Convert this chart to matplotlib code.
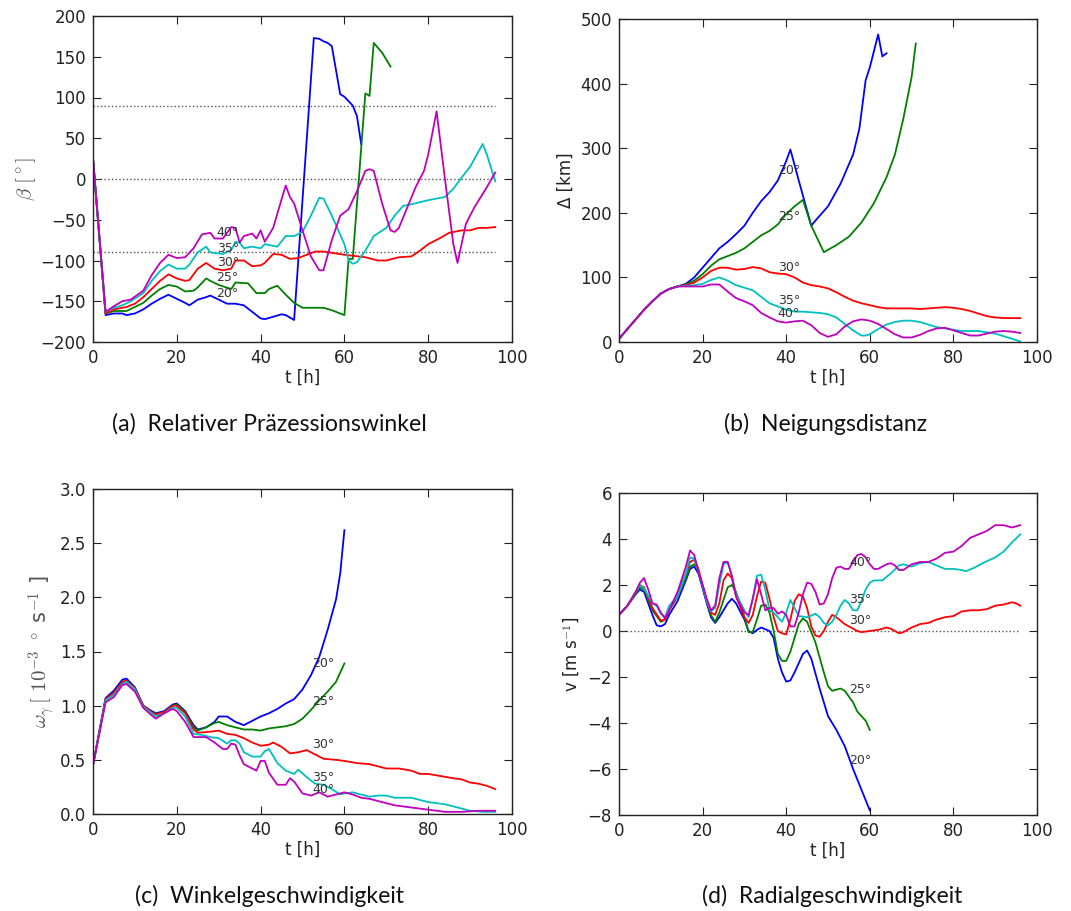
import numpy as np
import matplotlib
matplotlib.use("Agg")
import matplotlib.pyplot as plt

plt.rcParams['mathtext.fontset'] = 'cm'
plt.rcParams['font.family'] = ['DejaVu Sans']

# ---------------- Panel (a): beta ----------------
a20_t = [0, 3, 5, 7, 8, 10, 12, 14, 16, 18, 20, 22, 23, 25, 27, 28, 30, 32, 34, 36, 38, 40, 41, 43, 45, 46, 48,
         52.7, 54, 55, 56, 57, 59, 60, 62, 63, 64]
a20_v = [25, -167, -165, -165, -167, -165, -160, -153, -147, -142, -147, -152, -155, -148, -145, -143, -148, -153, -153, -155, -163, -171, -172, -169, -166, -167, -173,
         173, 172, 169, 167, 163, 104, 101, 90, 77, 43]
a25_t = [0, 3, 5, 8, 10, 12, 14, 16, 18, 20, 22, 24, 25, 27, 28, 30, 33, 34, 37, 39, 41, 42, 44, 46, 48, 50, 53, 55, 57, 60,
         61, 62, 65, 66, 67, 69, 71]
a25_v = [25, -165, -162, -162, -157, -152, -143, -135, -130, -132, -138, -137, -133, -122, -125, -130, -135, -127, -128, -140, -140, -135, -131, -142, -152, -158, -158, -158, -161, -167,
         -98, -98, 105, 102, 167, 155, 138]
a30_t = [0, 3, 5, 8, 10, 12, 14, 16, 18, 20, 22, 23, 25, 27, 29, 31, 33, 34, 36, 38, 40, 41, 43, 45, 47, 49, 51, 53, 55,
         60, 65, 68, 70, 73, 76, 78, 80, 83, 85, 88, 90, 92, 94, 96]
a30_v = [25, -165, -160, -157, -153, -145, -135, -125, -117, -122, -125, -124, -110, -103, -110, -112, -110, -100, -100, -107, -106, -103, -92, -93, -98, -97, -93, -89, -89,
         -93, -96, -100, -100, -96, -95, -88, -80, -72, -66, -63, -63, -60, -60, -59]
a35_t = [0, 3, 5, 7, 9, 12, 14, 16, 18, 20, 22, 23, 25, 27, 28, 31, 33, 34, 35, 36, 38, 40, 41, 44, 46, 48, 50, 52, 54, 55,
         57, 60, 61, 62, 63, 65, 67, 70, 72, 74, 76, 80, 82, 84, 86, 88, 90, 93, 94, 96]
a35_v = [25, -163, -158, -155, -150, -140, -125, -113, -105, -110, -110, -105, -90, -83, -90, -92, -87, -77, -78, -85, -83, -85, -80, -83, -70, -70, -65, -45, -23, -24,
         -45, -80, -100, -104, -102, -88, -70, -60, -45, -33, -31, -26, -24, -22, -12, 2, 15, 43, 30, -3]
a40_t = [0, 3, 5, 7, 9, 12, 14, 16, 18, 20, 22, 24, 26, 28, 29, 31, 33, 34, 35, 36, 38, 39, 40, 41, 43, 45, 46, 47, 48, 50,
         52, 54, 55, 57, 59, 61, 63, 65, 66, 67, 69, 71, 72, 73, 75, 77, 79, 80, 82, 84, 86, 87, 89, 91, 94, 96]
a40_v = [25, -163, -156, -150, -148, -137, -118, -103, -93, -97, -96, -85, -68, -66, -73, -73, -59, -60, -78, -70, -67, -73, -63, -77, -60, -25, -8, -22, -30, -63,
         -95, -112, -112, -75, -45, -37, -15, 10, 12, 10, -30, -63, -65, -60, -35, -10, 10, 30, 83, 0, -80, -103, -55, -35, -10, 8]

# ---------------- Panel (b): Delta ----------------
b20_t = [0, 2, 4, 6, 8, 10, 12, 14, 16, 18, 20, 22, 24, 26, 28, 30, 32, 34, 36, 38, 40, 41, 43, 46, 47, 50, 53, 56, 57.5, 59, 60, 62, 63, 64]
b20_v = [5, 20, 35, 50, 63, 75, 82, 86, 90, 100, 115, 130, 145, 155, 167, 180, 200, 218, 232, 250, 280, 298, 250, 180, 188, 210, 245, 290, 330, 405, 425, 476, 442, 447]
b25_t = [0, 2, 4, 6, 8, 10, 12, 14, 16, 18, 20, 22, 24, 26, 28, 30, 32, 34, 36, 38, 40, 42, 44, 46, 49, 52, 55, 58, 61, 64, 66, 68, 70, 71]
b25_v = [5, 20, 35, 50, 63, 75, 82, 86, 89, 95, 105, 118, 128, 133, 138, 145, 155, 165, 172, 182, 198, 210, 220, 180, 139, 150, 163, 185, 215, 255, 290, 345, 410, 462]
b30_t = [0, 2, 4, 6, 8, 10, 12, 14, 16, 18, 20, 22, 24, 26, 28, 30, 32, 34, 36, 38, 40, 42, 44, 46, 48, 50, 52, 54, 56, 58, 60, 62, 64, 66,
         70, 72, 74, 76, 78, 80, 82, 84, 86, 88, 90, 92, 96]
b30_v = [5, 20, 35, 50, 63, 75, 82, 86, 88, 92, 100, 110, 115, 115, 112, 113, 116, 114, 108, 106, 105, 100, 92, 88, 86, 83, 77, 70, 64, 60, 57, 54, 52, 52,
         52, 51, 52, 53, 54, 53, 51, 48, 44, 40, 38, 37, 37]
b35_t = [0, 2, 4, 6, 8, 10, 12, 14, 16, 18, 20, 22, 24, 26, 28, 30, 32, 34, 36, 38, 40, 42, 44, 46, 48, 50, 52, 54, 56, 58, 59, 60, 62, 64, 66,
         68, 70, 72, 74, 76, 78, 80, 82, 84, 86, 88, 90, 92, 94, 96]
b35_v = [5, 20, 35, 50, 63, 75, 82, 86, 87, 88, 90, 96, 100, 95, 88, 84, 80, 70, 60, 55, 50, 47, 47, 46, 45, 43, 38, 28, 18, 10, 10, 12, 20, 27, 31,
         33, 33, 31, 27, 23, 21, 19, 17, 17, 17, 15, 13, 9, 5, 1]
b40_t = [0, 2, 4, 6, 8, 10, 12, 14, 16, 18, 20, 22, 24, 26, 28, 30, 32, 34, 36, 38, 40, 42, 44, 46, 48, 50, 52, 54, 56, 58, 60, 62, 64, 66,
         68, 70, 72, 74, 76, 78, 80, 82, 84, 86, 88, 90, 92, 94, 96]
b40_v = [5, 20, 35, 50, 63, 75, 82, 86, 86, 86, 86, 89, 89, 78, 68, 63, 57, 45, 38, 32, 30, 32, 33, 26, 14, 8, 12, 24, 32, 35, 33, 28, 20, 12,
         7, 7, 11, 17, 21, 22, 18, 14, 10, 10, 13, 16, 17, 16, 14]

# ---------------- Panel (c): omega ----------------
c20_t = [0, 3, 5, 7, 8, 10, 12, 14, 15, 17, 19, 20, 22, 24, 25, 27, 29, 30, 32, 34, 36, 38, 40, 42, 44, 46, 48, 50, 52, 54, 56, 58, 59, 60]
c20_v = [0.45, 1.07, 1.14, 1.24, 1.25, 1.17, 1.0, 0.95, 0.93, 0.95, 1.01, 1.02, 0.95, 0.82, 0.78, 0.8, 0.85, 0.9, 0.9, 0.85, 0.82, 0.86, 0.9, 0.93, 0.97, 1.02, 1.06, 1.15, 1.28, 1.45, 1.7, 1.98, 2.22, 2.62]
c25_t = [0, 3, 5, 7, 8, 10, 12, 14, 15, 17, 19, 20, 22, 24, 25, 27, 29, 30, 32, 34, 36, 38, 40, 42, 44, 46, 48, 50, 52, 54, 56, 58, 60]
c25_v = [0.45, 1.06, 1.12, 1.22, 1.23, 1.16, 1.0, 0.94, 0.92, 0.94, 1.0, 1.01, 0.94, 0.8, 0.77, 0.8, 0.84, 0.85, 0.82, 0.8, 0.78, 0.78, 0.77, 0.79, 0.8, 0.81, 0.83, 0.88, 0.96, 1.05, 1.13, 1.22, 1.39]
c30_t = [0, 3, 5, 7, 8, 10, 12, 14, 15, 17, 19, 20, 22, 24, 25, 28, 30, 32, 34, 36, 38, 40, 42, 43, 45, 47, 49, 51, 53, 55, 58, 60, 63, 66,
         70, 73, 76, 78, 80, 83, 86, 88, 90, 92, 94, 96]
c30_v = [0.45, 1.06, 1.12, 1.22, 1.23, 1.16, 1.0, 0.94, 0.92, 0.94, 1.0, 1.0, 0.93, 0.78, 0.75, 0.76, 0.77, 0.74, 0.73, 0.7, 0.66, 0.63, 0.64, 0.66, 0.62, 0.56, 0.57, 0.59, 0.55, 0.51, 0.5, 0.49, 0.47, 0.46,
         0.42, 0.42, 0.4, 0.37, 0.37, 0.35, 0.33, 0.32, 0.29, 0.28, 0.26, 0.23]
c35_t = [0, 3, 5, 7, 8, 10, 12, 14, 15, 17, 19, 20, 22, 24, 26, 28, 30, 32, 33, 34, 35, 36, 38, 40, 41, 42, 44, 46, 48, 49, 51, 53, 55, 57,
         59, 60, 62, 64, 66, 68, 70, 72, 74, 76, 78, 80, 82, 84, 86, 88, 90, 93, 96]
c35_v = [0.45, 1.05, 1.1, 1.2, 1.22, 1.15, 0.99, 0.93, 0.9, 0.93, 0.98, 0.98, 0.9, 0.74, 0.73, 0.71, 0.7, 0.65, 0.68, 0.68, 0.65, 0.57, 0.53, 0.53, 0.58, 0.6, 0.47, 0.4, 0.37, 0.41, 0.34, 0.28, 0.27, 0.23,
         0.18, 0.19, 0.2, 0.18, 0.16, 0.17, 0.17, 0.15, 0.15, 0.15, 0.13, 0.11, 0.1, 0.09, 0.07, 0.05, 0.03, 0.02, 0.02]
c40_t = [0, 3, 5, 7, 8, 10, 12, 14, 15, 17, 19, 20, 22, 24, 25, 27, 29, 31, 32, 33, 34, 35, 36, 38, 39, 40, 41, 42, 44, 46, 47, 48, 50,
         52, 54, 56, 58, 60, 62, 64, 66, 68, 70, 72, 74, 76, 78, 80, 84, 88, 92, 96]
c40_v = [0.45, 1.03, 1.08, 1.19, 1.2, 1.13, 0.98, 0.91, 0.88, 0.93, 0.97, 0.95, 0.85, 0.71, 0.71, 0.71, 0.66, 0.6, 0.6, 0.65, 0.64, 0.54, 0.46, 0.42, 0.4, 0.49, 0.49, 0.38, 0.27, 0.27, 0.33, 0.3, 0.19,
         0.17, 0.2, 0.16, 0.18, 0.2, 0.18, 0.15, 0.14, 0.12, 0.1, 0.08, 0.07, 0.06, 0.05, 0.04, 0.02, 0.02, 0.03, 0.03]

# ---------------- Panel (d): v ----------------
d20_t = [0, 2, 4, 5, 6, 8, 9, 10, 11, 12, 14, 16, 17, 18, 19, 21, 22, 23, 24, 26, 27, 28, 30, 31, 32, 33, 34, 36, 37, 38, 39, 40, 41, 42,
         44, 45, 46, 48, 50, 52, 54, 56, 58, 60]
d20_v = [0.7, 1.1, 1.6, 1.8, 1.7, 0.7, 0.25, 0.2, 0.3, 0.7, 1.3, 2.2, 2.7, 2.8, 2.5, 1.2, 0.6, 0.35, 0.6, 1.2, 1.4, 1.2, 0.5, 0.0, -0.1, 0.05, 0.15, 0.0, -0.3, -1.2, -1.8, -2.2, -2.15, -1.8,
         -1.0, -0.85, -1.2, -2.5, -3.7, -4.3, -5.0, -6.0, -6.9, -7.8]
d25_t = [0, 2, 4, 5, 6, 8, 10, 11, 12, 14, 16, 17, 18, 19, 21, 22, 23, 24, 26, 27, 28, 30, 31, 32, 33, 34, 35, 36, 37, 38, 39, 40, 41, 43,
         44, 45, 47, 49, 50, 51, 53, 54, 56, 57, 59, 60]
d25_v = [0.7, 1.1, 1.6, 1.9, 1.8, 0.9, 0.4, 0.5, 0.9, 1.5, 2.3, 2.8, 2.9, 2.6, 1.3, 0.7, 0.4, 0.8, 1.9, 2.0, 1.7, 0.6, -0.05, -0.05, 0.5, 1.1, 1.15, 0.8, 0.0, -1.0, -1.3, -1.3, -0.9, 0.3,
         0.55, 0.4, -0.5, -1.8, -2.4, -2.6, -2.5, -2.6, -3.1, -3.5, -3.9, -4.3]
d30_t = [0, 2, 4, 5, 6, 8, 10, 11, 12, 14, 16, 17, 18, 19, 21, 22, 23, 24, 25, 26, 27, 28, 30, 31, 32, 33, 34, 35, 36, 37, 38, 39, 40,
         41, 42, 43, 44, 45, 46, 47, 48, 49, 50, 51, 52, 54, 56, 57, 58, 60, 62, 64, 65, 67, 68, 70, 72, 74, 76, 78, 80, 82, 84,
         86, 88, 90, 92, 94, 95, 96]
d30_v = [0.7, 1.1, 1.7, 2.0, 1.9, 1.0, 0.45, 0.5, 0.9, 1.6, 2.5, 3.0, 3.1, 2.7, 1.3, 0.8, 0.7, 1.2, 2.2, 2.5, 2.3, 1.5, 0.6, 0.35, 0.7, 1.5, 2.15, 2.1, 1.4, 0.6, 0.0, -0.1, -0.15,
         0.5, 1.3, 1.6, 1.5, 1.0, 0.2, -0.2, -0.25, 0.0, 0.4, 0.7, 0.6, 0.3, 0.1, 0.0, -0.05, 0.0, 0.05, 0.15, 0.1, -0.1, -0.05, 0.15, 0.3, 0.35, 0.5, 0.6, 0.65, 0.85, 0.9,
         0.9, 0.95, 1.1, 1.15, 1.25, 1.2, 1.1]
d35_t = [0, 2, 4, 5, 6, 8, 9, 10, 11, 12, 14, 16, 17, 18, 19, 21, 22, 23, 24, 25, 26, 27, 28, 30, 31, 32, 33, 34, 35, 36, 37, 38, 39,
         40, 41, 42, 43, 45, 47, 48, 49, 50, 51, 52, 53, 54, 55, 56, 57, 58, 59, 60, 61, 63, 65, 67, 68, 70, 72, 74, 76, 78, 80,
         82, 83, 85, 87, 90, 92, 94, 96]
d35_v = [0.7, 1.1, 1.7, 2.0, 1.85, 1.2, 1.1, 0.75, 0.6, 1.1, 1.5, 2.5, 3.2, 3.15, 2.6, 1.3, 0.85, 1.0, 2.0, 2.9, 3.0, 2.4, 1.6, 0.9, 0.6, 1.4, 2.4, 2.45, 1.8, 0.9, 0.8, 0.6, 0.4,
         0.8, 1.35, 1.0, 0.65, 0.6, 0.75, 0.6, 0.35, 0.25, 0.4, 0.7, 1.1, 1.35, 1.2, 0.9, 0.9, 1.3, 1.8, 2.1, 2.2, 2.2, 2.5, 2.85, 2.9, 2.8, 2.95, 3.0, 2.85, 2.7, 2.7,
         2.65, 2.6, 2.75, 2.95, 3.2, 3.45, 3.85, 4.2]
d40_t = [0, 2, 4, 5, 6, 7, 8, 9, 10, 11, 12, 14, 16, 17, 18, 19, 21, 22, 23, 24, 25, 26, 27, 28, 30, 31, 32, 33, 34, 35, 36, 37, 38,
         39, 40, 41, 42, 43, 44, 45, 46, 47, 48, 49, 50, 51, 52, 53, 54, 55, 56, 57, 58, 59, 60, 61, 62, 64, 65, 66, 67, 68, 70,
         72, 74, 76, 78, 80, 82, 84, 86, 88, 90, 92, 94, 96]
d40_v = [0.7, 1.1, 1.7, 2.1, 2.3, 1.8, 1.2, 1.15, 0.8, 0.55, 0.9, 1.7, 2.8, 3.5, 3.3, 2.6, 1.4, 0.9, 1.1, 2.3, 3.0, 3.0, 2.4, 1.5, 0.8, 0.7, 1.4, 2.25, 1.6, 0.9, 1.0, 1.0, 0.75,
         0.85, 0.7, 0.2, 0.2, 0.8, 1.6, 2.1, 2.05, 1.7, 1.15, 1.2, 1.6, 2.3, 2.75, 2.8, 2.7, 2.7, 3.0, 3.3, 3.35, 3.2, 2.9, 2.7, 2.7, 2.9, 2.95, 2.85, 2.65, 2.65, 2.9,
         3.0, 3.0, 3.15, 3.4, 3.45, 3.7, 4.05, 4.2, 4.35, 4.6, 4.6, 4.5, 4.6]

labels = ["20°", "25°", "30°", "35°", "40°"]
colors = ["#0000ff", "#008000", "#ff0000", "#00bfbf", "#bf00bf"]

# label positions (data coords)
a_lab_x = 29.5; a_lab_y = [-141, -121, -103, -85, -66]
b_lab_x = 38; b_lab_y = [266, 194, 116, 65, 44]
c_lab_x = 52.3; c_lab_y = [1.39, 1.04, 0.64, 0.34, 0.23]
d_lab_x = 55; d_lab_y = [-5.61, -2.53, 0.44, 1.38, 3.0]

fig = plt.figure(figsize=(10.71, 9.11), dpi=100)
W, H = 1071.0, 911.0

def make_ax(l, r, t, b):
    return fig.add_axes([l / W, 1 - b / H, (r - l) / W, (b - t) / H])

axa = make_ax(93, 512, 16, 342)
axb = make_ax(619, 1037, 19, 342)
axc = make_ax(93, 512, 489, 814)
axd = make_ax(619, 1037, 493, 815)

LW = 1.3

def style(ax):
    ax.tick_params(direction='in', top=True, right=True, length=6, width=0.8,
                   labelsize=12, pad=5, colors='#222222')
    for s in ax.spines.values():
        s.set_linewidth(1.0)
        s.set_color('#222222')
    ax.set_xlim(0, 100)
    ax.set_xticks([0, 20, 40, 60, 80, 100])
    ax.set_xlabel("t [h]", fontsize=12, labelpad=1, color='#222222')

series_a = [(a20_t, a20_v), (a25_t, a25_v), (a30_t, a30_v), (a35_t, a35_v), (a40_t, a40_v)]
series_b = [(b20_t, b20_v), (b25_t, b25_v), (b30_t, b30_v), (b35_t, b35_v), (b40_t, b40_v)]
series_c = [(c20_t, c20_v), (c25_t, c25_v), (c30_t, c30_v), (c35_t, c35_v), (c40_t, c40_v)]
series_d = [(d20_t, d20_v), (d25_t, d25_v), (d30_t, d30_v), (d35_t, d35_v), (d40_t, d40_v)]

lab_kw = dict(fontsize=9, ha='left', va='center', color='#333333')

# (a)
for yy in [90, 0, -90]:
    axa.plot([0, 96], [yy, yy], ls=':', color='#555555', lw=1)
for (t, v), c in zip(series_a, colors):
    axa.plot(t, v, color=c, lw=LW)
for lab, y in zip(labels, a_lab_y):
    axa.text(a_lab_x, y, lab, **lab_kw)
axa.set_ylim(-200, 200)
axa.set_yticks(np.arange(-200, 201, 50))
axa.set_ylabel(r"$\beta\ [^\circ]$", fontsize=15, color='#555555', labelpad=2)
style(axa)

# (b)
for (t, v), c in zip(series_b, colors):
    axb.plot(t, v, color=c, lw=LW)
for lab, y in zip(labels, b_lab_y):
    axb.text(b_lab_x, y, lab, **lab_kw)
axb.set_ylim(0, 500)
axb.set_yticks(np.arange(0, 501, 100))
axb.set_ylabel("Δ [km]", fontsize=12, color='#222222')
style(axb)

# (c)
for (t, v), c in zip(series_c, colors):
    axc.plot(t, v, color=c, lw=LW)
for lab, y in zip(labels, c_lab_y):
    axc.text(c_lab_x, y, lab, **lab_kw)
axc.set_ylim(0, 3)
axc.set_yticks(np.arange(0, 3.01, 0.5))
axc.yaxis.set_major_formatter(matplotlib.ticker.FormatStrFormatter('%.1f'))
axc.set_ylabel(r"$\omega_\gamma\,[\ 10^{-3}\ ^\circ$ s$^{-1}$ ]", fontsize=15, color='#555555', labelpad=2)
style(axc)

# (d)
axd.plot([0, 96], [0, 0], ls=':', color='#555555', lw=1)
for (t, v), c in zip(series_d, colors):
    axd.plot(t, v, color=c, lw=LW)
for lab, y in zip(labels, d_lab_y):
    axd.text(d_lab_x, y, lab, **lab_kw)
axd.set_ylim(-8, 6)
axd.set_yticks(np.arange(-8, 7, 2))
axd.set_ylabel(r"v [m s$^{-1}$]", fontsize=12, color='#222222')
style(axd)

cap_kw = dict(fontsize=16.6, family='Lato', va='baseline', ha='left', color='#111111')
fig.text(112 / W, 1 - 431 / H, "(a)  Relativer Präzessionswinkel", **cap_kw)
fig.text(724 / W, 1 - 431 / H, "(b)  Neigungsdistanz", **cap_kw)
fig.text(135 / W, 1 - 903 / H, "(c)  Winkelgeschwindigkeit", **cap_kw)
fig.text(702 / W, 1 - 903 / H, "(d)  Radialgeschwindigkeit", **cap_kw)

fig.savefig("out.png", dpi=100, facecolor='white')
